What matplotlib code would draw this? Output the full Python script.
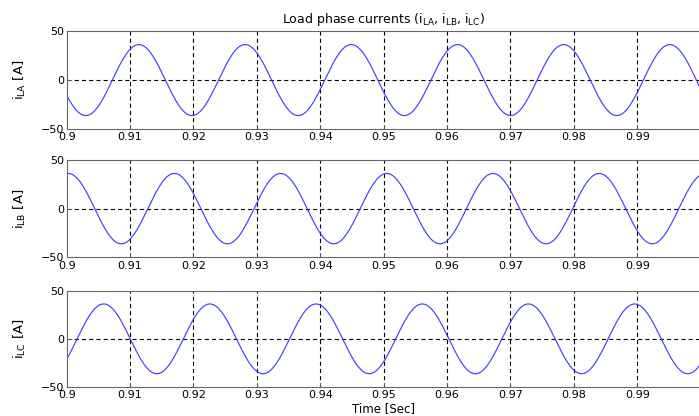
import matplotlib.pyplot as plt
import numpy as np

plt.rcParams['font.family'] = ['DejaVu Sans']
plt.rcParams['mathtext.fontset'] = 'custom'
plt.rcParams['mathtext.rm'] = 'DejaVu Sans'
plt.rcParams['lines.scale_dashes'] = False

# values
phases = ['LA', 'LB', 'LC']
amplitude = [36.3, 36.3, 36.3]          # A, peak
freq_hz = 59.7                           # from the spacing of the zero crossings
rising_zero = [0.9072, 0.9128, 0.9184]   # first rising zero crossing of each phase, s
t_start, t_end = 0.9, 1.0
xticks = [0.9, 0.91, 0.92, 0.93, 0.94, 0.95, 0.96, 0.97, 0.98, 0.99]
xtick_labels = ['0.9', '0.91', '0.92', '0.93', '0.94', '0.95', '0.96', '0.97', '0.98', '0.99']
yticks = [-50, 0, 50]

t = np.linspace(t_start, t_end, 2000)

fig = plt.figure(figsize=(6.99, 4.16), dpi=100)

# axes rectangles in figure fraction (left, bottom, width, height)
rects = [
    (0.0954, 0.690, 0.907, 0.235),
    (0.0954, 0.382, 0.907, 0.233),
    (0.0954, 0.070, 0.907, 0.231),
]

dash = (0, (3.0, 2.2))

for k, name in enumerate(phases):
    ax = fig.add_axes(rects[k])
    i_x = amplitude[k] * np.sin(2 * np.pi * freq_hz * (t - rising_zero[k]))
    ax.plot(t, i_x, color='#4040ff', lw=0.85)

    ax.set_xlim(t_start, t_end)
    ax.set_ylim(-50, 50)
    ax.set_xticks(xticks)
    ax.set_xticklabels(xtick_labels)
    ax.set_yticks(yticks)

    for xv in xticks[1:]:
        ax.axvline(xv, color='black', lw=0.8, linestyle=dash, zorder=1)
    ax.axhline(0, color='black', lw=0.8, linestyle=dash, zorder=1)

    for s in ax.spines.values():
        s.set_color('0.4')
        s.set_linewidth(0.8)
    ax.tick_params(direction='in', length=3, width=0.6, color='0.4',
                   labelsize=8)
    ax.tick_params(axis='x', pad=2.5)
    ax.tick_params(axis='y', pad=2)
    ax.set_ylabel(r'$\mathregular{i_{' + name + r'}}$ [A]', fontsize=9.5, labelpad=9)

    if k == 0:
        ax.set_title(r'Load phase currents ($\mathregular{i_{LA}}$, '
                     r'$\mathregular{i_{LB}}$, $\mathregular{i_{LC}}$)',
                     fontsize=9, pad=6, x=0.5)
    if k == 2:
        ax.set_xlabel('Time [Sec]', fontsize=8.5, labelpad=1)

plt.savefig('out.png', dpi=100)
